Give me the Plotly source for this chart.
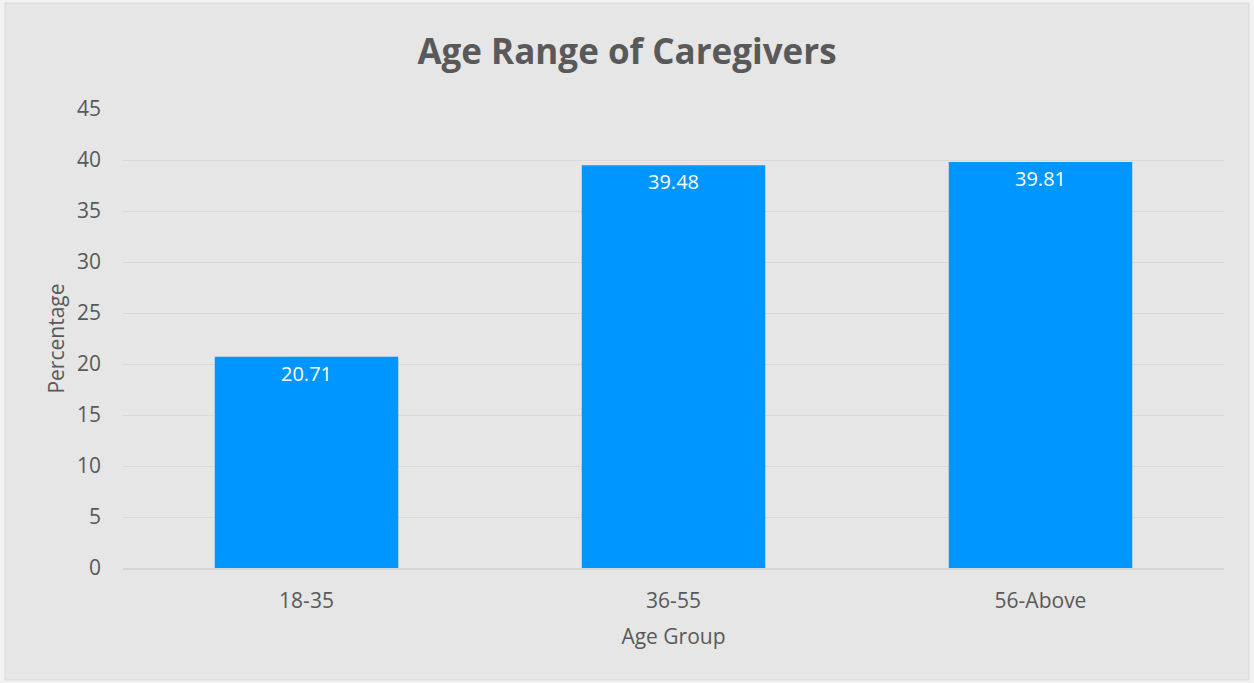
import plotly.graph_objects as go

# data
age_groups = ["18-35", "36-55", "56-Above"]
percentages = [20.71, 39.48, 39.81]
y_ticks = [0, 5, 10, 15, 20, 25, 30, 35, 40, 45]

FONT = "'Open Sans', sans-serif"
GRAY = "#595959"
W, H = 1254, 683
L, R, T, B = 123, 30, 109, 115
PW, PH = W - L - R, H - T - B

fig = go.Figure(
    go.Bar(
        x=age_groups,
        y=percentages,
        width=0.5,
        marker=dict(color="#0096FF", line=dict(width=0)),
        text=[f"{v:.2f}" for v in percentages],
        textposition="inside",
        insidetextanchor="end",
        textfont=dict(color="white", size=20, family=FONT),
        textangle=0,
    )
)

fig.update_layout(
    width=W,
    height=H,
    paper_bgcolor="#f2f2f2",
    plot_bgcolor="#e6e6e6",
    margin=dict(l=L, r=R, t=T, b=B),
    font=dict(family=FONT, color=GRAY, size=21),
    title=dict(
        text="<b>Age Range of Caregivers</b>",
        x=0.5,
        xanchor="center",
        y=1 - 52 / H,
        yanchor="middle",
        font=dict(size=35, color=GRAY, family=FONT),
    ),
    showlegend=False,
    uniformtext=dict(minsize=10, mode="show"),
)

fig.update_xaxes(
    title=dict(text="Age Group", font=dict(size=21), standoff=16),
    showgrid=False,
    showline=True,
    linecolor="#d4d4d4",
    linewidth=2,
    ticks="",
    ticklabelstandoff=13,
    tickfont=dict(size=21),
)
fig.update_yaxes(
    title=dict(text="Percentage", font=dict(size=21), standoff=6),
    range=[0, 45],
    tickvals=y_ticks,
    gridcolor="#d9d9d9",
    gridwidth=1.2,
    zeroline=False,
    showline=False,
    ticks="",
    ticklabelstandoff=21,
    tickfont=dict(size=21),
)

# chart area background with thin border
fig.add_shape(
    type="rect",
    xref="paper",
    yref="paper",
    x0=(5 - L) / PW,
    x1=(1249 - L) / PW,
    y0=(H - 680 - B) / PH,
    y1=(H - 3 - B) / PH,
    fillcolor="#e6e6e6",
    line=dict(color="#d9d9d9", width=1),
    layer="below",
)

fig.write_html(
    "out.html",
    config={"displayModeBar": False},
    post_script="document.body.style.margin='0';",
)
